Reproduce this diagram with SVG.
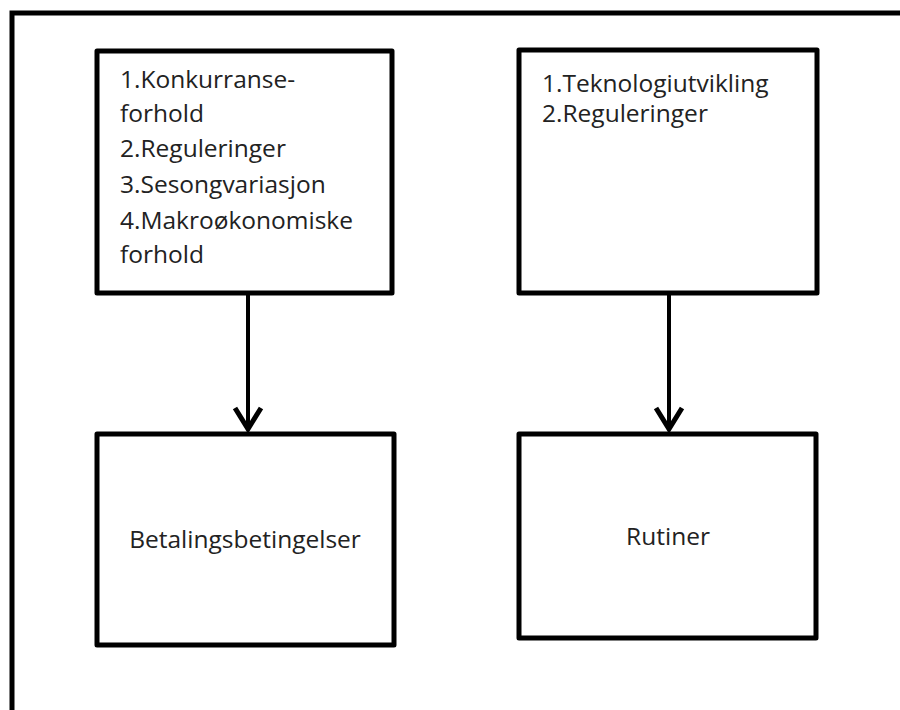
<svg xmlns="http://www.w3.org/2000/svg" width="900" height="710" viewBox="0 0 900 710">
<defs>
<style>
.box{fill:#fff;stroke:#000;stroke-width:5;stroke-linejoin:round}
.t{font-family:"Open Sans","Liberation Sans",sans-serif;font-size:24.5px;fill:#222}
.conn{stroke:#000;stroke-width:4;fill:none}
</style>
<marker id="arr" viewBox="0 0 28 32" refX="25" refY="16" markerWidth="28" markerHeight="32" markerUnits="userSpaceOnUse" orient="auto">
<path d="M3,3 L24,16 L3,29" fill="none" stroke="#000" stroke-width="5"/>
</marker>
</defs>
<rect width="900" height="710" fill="#fff"/>
<path d="M12,710 V13 H900" fill="none" stroke="#000" stroke-width="5"/>
<g id="connectors">
<line class="conn" x1="248" y1="293" x2="248" y2="430" marker-end="url(#arr)"/>
<line class="conn" x1="669" y1="293" x2="669" y2="430" marker-end="url(#arr)"/>
</g>
<g id="node1">
<rect class="box" x="97" y="51" width="295" height="242"/>
<text class="t"><tspan x="120" y="88">1.Konkurranse-</tspan><tspan x="120" y="122">forhold</tspan><tspan x="120" y="157">2.Reguleringer</tspan><tspan x="120" y="193">3.Sesongvariasjon</tspan><tspan x="120" y="229">4.Makroøkonomiske</tspan><tspan x="120" y="263">forhold</tspan></text>
</g>
<g id="node2">
<rect class="box" x="519" y="50" width="298" height="243"/>
<text class="t"><tspan x="542" y="92">1.Teknologiutvikling</tspan><tspan x="542" y="122">2.Reguleringer</tspan></text>
</g>
<g id="node3">
<rect class="box" x="97" y="434" width="297" height="211"/>
<text class="t" x="245" y="548" text-anchor="middle">Betalingsbetingelser</text>
</g>
<g id="node4">
<rect class="box" x="519" y="434" width="297" height="204"/>
<text class="t" x="668" y="545" text-anchor="middle">Rutiner</text>
</g>
</svg>
